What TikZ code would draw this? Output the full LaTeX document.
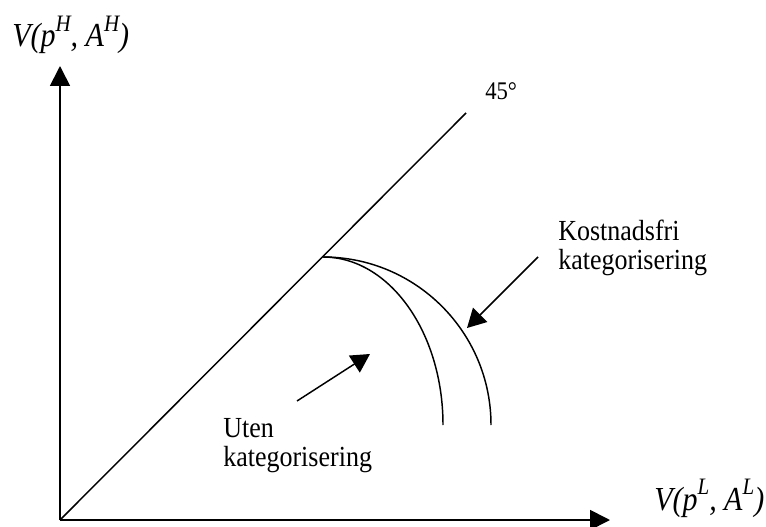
\documentclass[tikz,border=0pt]{standalone}
\usepackage{fontspec}
\usepackage{graphicx}
\setmainfont{Liberation Serif}
\usetikzlibrary{arrows.meta}
\newcommand\vstretch[1]{\scalebox{1}[1.12]{#1}}
\newcommand\myup[1]{\raisebox{0.46em}{\fontsize{15.75pt}{16pt}\selectfont #1}}
\begin{document}
\begin{tikzpicture}[x=0.75pt,y=-0.75pt,
  lbl/.style={inner sep=0pt, anchor=base west, font=\fontsize{19.5pt}{20pt}\selectfont},
  axlbl/.style={inner sep=0pt, anchor=base west, font=\fontsize{22.5pt}{24pt}\selectfont\itshape},
  axis/.style={line width=1.3pt, -{Triangle[length=15pt,width=15pt]}},
  pointer/.style={line width=1.1pt, -{Triangle[length=14pt,width=15pt]}},
  curve/.style={line width=1.1pt}]
\useasboundingbox (0,0) rectangle (766,527);
% axes
\coordinate (O) at (60,520);
\coordinate (ytip) at (60,66);
\coordinate (xtip) at (610,520);
\coordinate (diag) at (466,113);
\draw[axis] (O) -- (ytip);
\draw[axis] (O) -- (xtip);
\draw[curve] (O) -- (diag);
% labels
\node[axlbl] (ylab) at (12,47) {\vstretch{V(p\myup{H}, A\myup{H})}};
\node[axlbl] (xlab) at (654,510) {\vstretch{V(p\myup{L}, A\myup{L})}};
\node[lbl, font=\fontsize{17pt}{18pt}\selectfont] (deg) at (485,100) {\vstretch{45°}};
% frontiers
\coordinate (P) at (323,257);
\coordinate (Ein) at (443,425);
\coordinate (Eout) at (491,425);
\draw[curve] (P) .. controls (389.3,257) and (443,332.2) .. (Ein);
\draw[curve] (P) .. controls (415.8,257) and (491,332.2) .. (Eout);
% text labels with pointers
\node[lbl] (kost) at (558,240) {\vstretch{\begin{tabular}[t]{@{}l@{}}Kostnadsfri\\kategorisering\end{tabular}}};
\node[lbl] (uten) at (223,437) {\vstretch{\begin{tabular}[t]{@{}l@{}}Uten\\kategorisering\end{tabular}}};
\coordinate (kstart) at (538,257);
\coordinate (ktip) at (467,328);
\coordinate (ustart) at (297,401);
\coordinate (utip) at (370,354);
\draw[pointer] (kstart) -- (ktip);
\draw[pointer] (ustart) -- (utip);
\end{tikzpicture}
\end{document}
